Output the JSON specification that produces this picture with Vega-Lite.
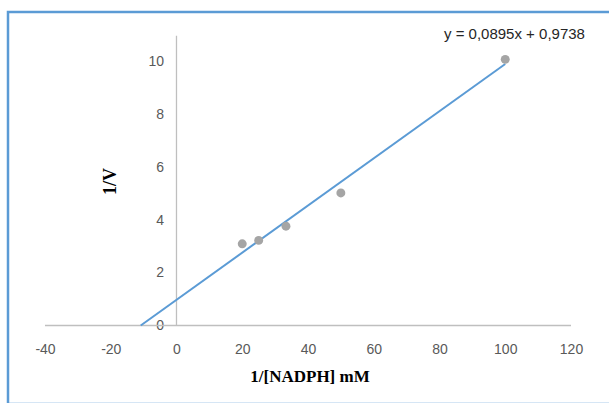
{
  "$schema": "https://vega.github.io/schema/vega-lite/v6.json",
  "autosize": "none",
  "width": 603,
  "height": 392,
  "padding": {"left": 8, "top": 12, "right": 0, "bottom": 0},
  "background": "white",
  "config": {
    "view": {"stroke": "#5B9BD5", "strokeWidth": 2.5},
    "axis": {"grid": false, "domain": false, "ticks": false, "labelColor": "#595959", "labelFont": "Liberation Sans Narrow, Liberation Sans, sans-serif", "labelFontSize": 14, "titleFont": "Liberation Serif, Times New Roman, serif", "titleFontWeight": "bold", "titleFontSize": 17, "titleColor": "#000000"}
  },
  "datasets": {
    "points": [
      {"x": 20, "y": 3.1},
      {"x": 25, "y": 3.23},
      {"x": 33.3, "y": 3.77},
      {"x": 50, "y": 5.03},
      {"x": 100, "y": 10.1}
    ],
    "trend": [
      {"x": -10.88, "y": 0},
      {"x": 100, "y": 9.924}
    ]
  },
  "layer": [
    {
      "data": {"values": [{}]},
      "mark": {"type": "rule", "color": "#BFBFBF", "strokeWidth": 1.3},
      "encoding": {
        "x": {"datum": -40, "type": "quantitative", "scale": {"domain": [-51.25, 132.17], "nice": false, "zero": false},
          "axis": {"values": [-40, -20, 0, 20, 40, 60, 80, 100, 120], "labelExpr": "replace(datum.label, '\u2212', '-')", "offset": -78.5, "labelPadding": 17, "title": "1/[NADPH] mM", "titlePadding": 12}},
        "x2": {"datum": 120},
        "y": {"datum": 0, "type": "quantitative", "scale": {"domain": [-2.979, 11.897], "nice": false, "zero": false},
          "axis": {"values": [0, 2, 4, 6, 8, 10], "offset": -168.5, "labelPadding": 13, "title": "1/V", "titlePadding": 28, "titleFontSize": 18, "titleY": 169}}
      }
    },
    {
      "data": {"values": [{}]},
      "mark": {"type": "rule", "color": "#BFBFBF", "strokeWidth": 1.3},
      "encoding": {
        "x": {"datum": 0, "type": "quantitative"},
        "y": {"datum": 0, "type": "quantitative"},
        "y2": {"datum": 11}
      }
    },
    {
      "data": {"name": "trend"},
      "mark": {"type": "line", "color": "#5B9BD5", "strokeWidth": 2},
      "encoding": {
        "x": {"field": "x", "type": "quantitative"},
        "y": {"field": "y", "type": "quantitative"}
      }
    },
    {
      "data": {"name": "points"},
      "mark": {"type": "circle", "color": "#A5A5A5", "opacity": 1, "size": 80},
      "encoding": {
        "x": {"field": "x", "type": "quantitative"},
        "y": {"field": "y", "type": "quantitative"}
      }
    },
    {
      "data": {"values": [{}]},
      "mark": {"type": "text", "text": "y = 0,0895x + 0,9738", "font": "Liberation Sans Narrow, Liberation Sans, sans-serif", "fontSize": 15, "color": "#262626", "align": "center", "baseline": "middle"},
      "encoding": {
        "x": {"datum": 102.8, "type": "quantitative"},
        "y": {"datum": 11.05, "type": "quantitative"}
      }
    }
  ]
}
